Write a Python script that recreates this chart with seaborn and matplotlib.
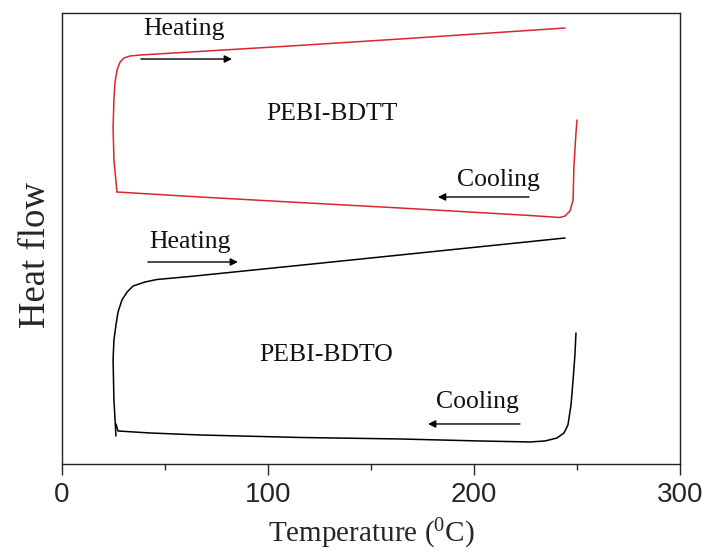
import matplotlib
matplotlib.use("Agg")
import matplotlib.pyplot as plt
import seaborn as sns
import pandas as pd

# DSC traces (temperature in degC, heat flow in arbitrary units)
bdtt_heat_T = [26.7, 25.2, 24.8, 25.2, 25.7, 26.7, 28.2, 30.1, 33.0, 37.9, 110.7, 164.1, 244.2]
bdtt_heat_q = [2.72, 3.04, 3.37, 3.64, 3.81, 3.94, 4.02, 4.06, 4.08, 4.09, 4.18, 4.25, 4.36]

bdtt_cool_T = [250.0, 249.5, 248.5, 248.1, 246.6, 244.2, 241.7, 227.2, 164.1, 110.7, 67.0, 26.7]
bdtt_cool_q = [3.44, 3.31, 2.97, 2.64, 2.53, 2.48, 2.465, 2.485, 2.56, 2.62, 2.67, 2.72]

bdto_heat_T = [26.2, 25.2, 24.8, 25.2, 26.2, 27.2, 29.1, 31.6, 34.5, 40.3, 46.1, 62.1, 110.7, 164.1, 244.2]
bdto_heat_q = [0.28, 0.64, 1.04, 1.24, 1.39, 1.52, 1.64, 1.72, 1.78, 1.82, 1.845, 1.875, 1.977, 2.09, 2.26]

bdto_cool_T = [249.5, 249.0, 248.1, 247.1, 245.6, 243.7, 240.3, 234.5, 227.2, 202.9, 164.1, 115.5, 67.0, 42.7, 27.2, 26.2]
bdto_cool_q = [1.31, 1.09, 0.84, 0.59, 0.39, 0.31, 0.26, 0.23, 0.22, 0.23, 0.25, 0.265, 0.29, 0.31, 0.33, 0.40]

x_ticks = [0, 100, 200, 300]

sns.set_theme(style="white")
plt.rcParams["font.family"] = ["Liberation Serif", "DejaVu Serif"]
plt.rcParams["mathtext.fontset"] = "custom"
plt.rcParams["mathtext.rm"] = "Liberation Serif"

fig = plt.figure(figsize=(7.07, 5.54), dpi=100)
ax = fig.add_axes([0.0877, 0.1625, 0.8741, 0.814])

red = "#d8262c"
traces = [
    (bdtt_heat_T, bdtt_heat_q, red),
    (bdtt_cool_T, bdtt_cool_q, red),
    (bdto_heat_T, bdto_heat_q, "black"),
    (bdto_cool_T, bdto_cool_q, "black"),
]
for T, q, c in traces:
    df = pd.DataFrame({"T": T, "q": q})
    sns.lineplot(data=df, x="T", y="q", sort=False, estimator=None,
                 color=c, lw=1.1, ax=ax)

arrow_kw = dict(arrowstyle="-|>", color="black", lw=1.0,
                mutation_scale=11, shrinkA=0, shrinkB=0)
text_kw = dict(fontsize=18.5, ha="center", va="center", color="#111111")

# PEBI-BDTT labels
ax.text(59.2, 4.35, "Heating", **text_kw)
ax.annotate("", xy=(82.5, 4.05), xytext=(38.3, 4.05), arrowprops=arrow_kw)
ax.text(131.1, 3.50, "PEBI-BDTT", **text_kw)
ax.text(212.1, 2.84, "Cooling", **text_kw)
ax.annotate("", xy=(182.5, 2.67), xytext=(226.7, 2.67), arrowprops=arrow_kw)

# PEBI-BDTO labels
ax.text(62.1, 2.22, "Heating", **text_kw)
ax.annotate("", xy=(85.4, 2.02), xytext=(41.7, 2.02), arrowprops=arrow_kw)
ax.text(128.2, 1.09, "PEBI-BDTO", **text_kw)
ax.text(201.9, 0.62, "Cooling", **text_kw)
ax.annotate("", xy=(177.7, 0.40), xytext=(222.3, 0.40), arrowprops=arrow_kw)

ax.set_xlim(0, 300)
ax.set_ylim(0, 4.51)
ax.set_xticks(x_ticks)
ax.set_xticks([50, 150, 250], minor=True)
ax.set_yticks([])
ax.tick_params(axis="x", which="major", direction="out", length=8, width=1,
               bottom=True, pad=5, labelsize=20)
ax.tick_params(axis="x", which="minor", direction="out", length=4, width=1, bottom=True)
for lab in ax.get_xticklabels():
    lab.set_family(["Liberation Sans", "DejaVu Sans"])

for s in ax.spines.values():
    s.set_visible(True)
    s.set_color("#222222")
    s.set_linewidth(1.0)

ax.set_xlabel(r"Temperature ($\mathregular{^0}$C)", fontsize=21, labelpad=6)
ax.set_ylabel("Heat flow", fontsize=26.5)
ax.yaxis.set_label_coords(-0.014, 0.463)

fig.savefig("out.png", dpi=100)
